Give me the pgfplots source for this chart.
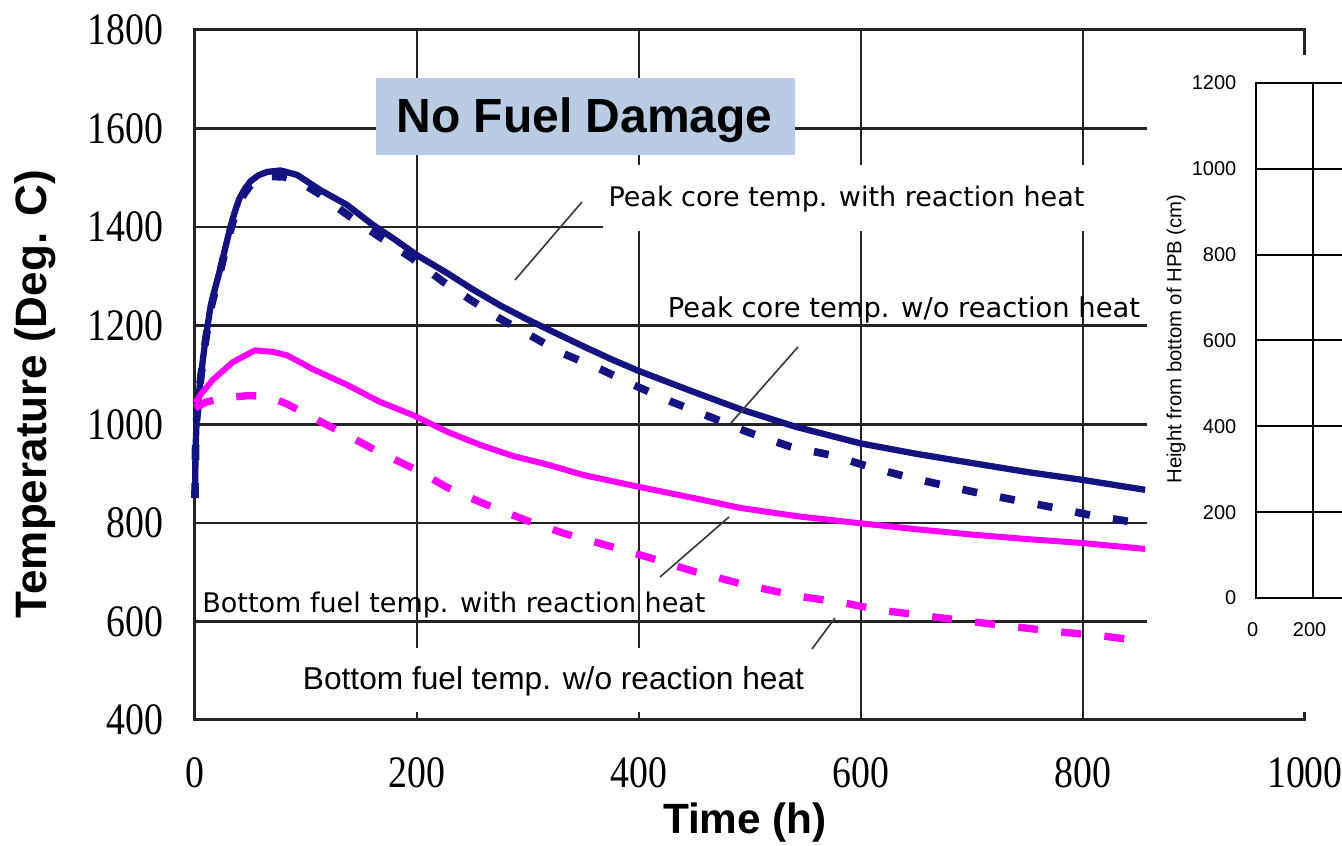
\documentclass[border=0pt]{standalone}
\usepackage{fontspec}
\setmainfont{Liberation Sans}
\newfontfamily\dvfont{DejaVu Sans}
\newfontfamily\serfont{Liberation Serif}
\usepackage{graphicx}
\usepackage{pgfplots}
\pgfplotsset{compat=1.18}
\definecolor{navyc}{RGB}{20,20,128}
\definecolor{magc}{RGB}{255,0,255}
\definecolor{boxblue}{RGB}{184,204,228}
\definecolor{gridc}{RGB}{35,35,35}
\definecolor{leadc}{RGB}{60,60,60}
\begin{document}
\begin{tikzpicture}
% ---- grid and frame of the main chart (axis units) ----
\begin{scope}[x=0.333pt, y=0.1478571pt, yshift=-59.142857pt]
  \foreach \t in {200,400,600,800} \draw[gridc, line width=0.75pt] (\t,400) -- (\t,1800);
  \foreach \T in {600,800,1000,1200,1400,1600} \draw[gridc, line width=0.75pt] (0,\T) -- (1000,\T);
  \draw[gridc, line width=0.9pt] (0,400) rectangle (1000,1800);
  \fill[white] (367.7,1392.2) rectangle (858,1526);
  \fill[white] (94.6,416.2) rectangle (554.3,546);
  \fill[white] (858,416.2) rectangle (1100,1749);
\end{scope}

\begin{axis}[at={(0pt,0pt)}, anchor=south west, scale only axis,
  width=333pt, height=207pt,
  xmin=0, xmax=1000, ymin=400, ymax=1800,
  xtick={0,200,...,1000}, ytick={400,600,...,1800},
  axis line style={draw=none}, tick style={draw=none}, major tick length=0pt,
  /pgf/number format/assume math mode=true, /pgf/number format/1000 sep={},
  tick label style={font=\serfont\fontsize{13.5}{13.5}\selectfont, inner sep=0pt},
  xticklabel style={anchor=north, yshift=-11pt},
  yticklabel style={anchor=east, xshift=-9.3pt},
  xticklabel={\scalebox{0.84}[1]{\pgfmathprintnumber{\tick}}},
  yticklabel={\scalebox{0.84}[1]{\pgfmathprintnumber{\tick}}},
  clip=false]
% Peak core temp. with reaction heat
\addplot[navyc, line width=1.9pt, line join=round] table {
0 850
0.5 950
1.5 1010
4.5 1084
9 1165
13.5 1232
18 1275
22.5 1313
27 1355
31.5 1397
36 1432
40 1458
45 1478
50 1493
57 1505
65 1512
77 1515
92 1506
113 1475
137 1445
160 1405
180 1375
200 1343
227 1307
250 1274
275 1241
300 1212
325 1185
350 1158
375 1132
400 1108
450 1065
492 1030
541 995
600 961
650 940
701 921
750 903
800 887
856 867
};
% Peak core temp. w/o reaction heat
\addplot[navyc, line width=2.3pt, dash pattern=on 4.5pt off 7pt] table {
0 850
0.5 950
1.5 1010
4.5 1082
9 1162
13.5 1228
18 1270
22.5 1308
27 1350
31.5 1390
36 1425
40 1450
45 1470
50 1485
57 1497
65 1503
80 1502
92 1495
113 1466
133 1432
150 1405
169 1376
196 1336
223 1290
250 1250
275 1214
300 1183
329 1146
365 1112
396 1079
430 1045
464 1015
497 985
537 954
574 937
607 914
640 894
673 877
701 863
739 846
776 830
810 814
847 801
855 799
};
% Bottom fuel temp. with reaction heat
\addplot[magc, line width=1.8pt, line join=round] table {
0 1043
5 1060
16 1090
34 1126
54 1150
70 1147
83 1140
106 1112
137 1080
167 1045
196 1019
227 985
257 958
286 936
318 918
350 897
400 873
450 850
492 830
544 813
600 799
650 787
701 776
750 767
800 759
856 747
};
% Bottom fuel temp. w/o reaction heat
\addplot[magc, line width=2.2pt, dash pattern=on 6pt off 7pt] table {
0 1033
10 1045
25 1053
47 1058
65 1057
83 1041
110 1009
137 978
167 942
200 907
227 872
257 842
286 816
302 802
332 779
381 748
416 725
450 701
496 674
544 651
586 637
617 623
652 613
694 601
739 589
777 579
812 572
847 562
855 561
};
\end{axis}

% ---- inset chart (cut off at the right edge, as in the reference) ----
\begin{axis}[at={(318.3pt,36.6pt)}, anchor=south west, scale only axis,
  width=85.5pt, height=154.5pt,
  xmin=0, xmax=1000, ymin=0, ymax=1200,
  xtick={0,200,...,1000}, ytick={0,200,...,1200},
  xticklabels={0,200,,,,},
  grid=major, grid style={black, line width=0.6pt},
  axis line style={black, line width=0.7pt}, major tick length=0pt,
  /pgf/number format/assume math mode=true, /pgf/number format/1000 sep={},
  tick label style={font=\fontsize{6}{6}\selectfont, inner sep=0pt},
  xticklabel style={anchor=north, yshift=-7.2pt, xshift=-1pt},
  yticklabel style={anchor=east, xshift=-5.7pt}]
\addplot[draw=none] coordinates {(0,0)};
\end{axis}
\node[rotate=90, inner sep=0pt, font=\fontsize{6.1}{6.1}\selectfont] at (294.3pt,114.3pt) {Height from bottom of HPB (cm)};

% ---- annotations ----
\fill[boxblue] (54.3pt,169.5pt) rectangle (180pt,192.6pt);
\node[anchor=base, inner sep=0pt, font=\bfseries\fontsize{14.4}{14.4}\selectfont] at (116.85pt,176.1pt) {No Fuel Damage};

\node[anchor=base, inner sep=0pt, font=\dvfont\fontsize{8.1}{8.1}\selectfont] at (195.45pt,153.9pt) {Peak core temp. with reaction heat};
\node[anchor=base, inner sep=0pt, font=\dvfont\fontsize{8.2}{8.2}\selectfont] at (212.7pt,120.6pt) {Peak core temp. w/o reaction heat};
\node[anchor=base, inner sep=0pt, font=\dvfont\fontsize{8.1}{8.1}\selectfont] at (77.7pt,32.1pt) {Bottom fuel temp. with reaction heat};
\node[anchor=base, inner sep=0pt, font=\fontsize{9.5}{9.5}\selectfont] at (107.55pt,9pt) {Bottom fuel temp. w/o reaction heat};

\draw[leadc, line width=0.5pt] (116.1pt,155.4pt) -- (96pt,132pt);
\draw[leadc, line width=0.5pt] (180.9pt,111.9pt) -- (160.8pt,89.1pt);
\draw[leadc, line width=0.5pt] (160.2pt,60.9pt) -- (139.5pt,42.9pt);
\draw[leadc, line width=0.5pt] (192pt,30.6pt) -- (185.1pt,21.3pt);

\node[rotate=90, inner sep=0pt, font=\bfseries\fontsize{13.2}{13.2}\selectfont] at (-48pt,97.8pt) {Temperature (Deg. C)};
\node[inner sep=0pt, font=\bfseries\fontsize{12.7}{12.7}\selectfont] at (165pt,-30.9pt) {Time (h)};

\pgfresetboundingbox
\useasboundingbox (-58.5pt,-37.8pt) rectangle (344.1pt,216pt);
\end{tikzpicture}
\end{document}
